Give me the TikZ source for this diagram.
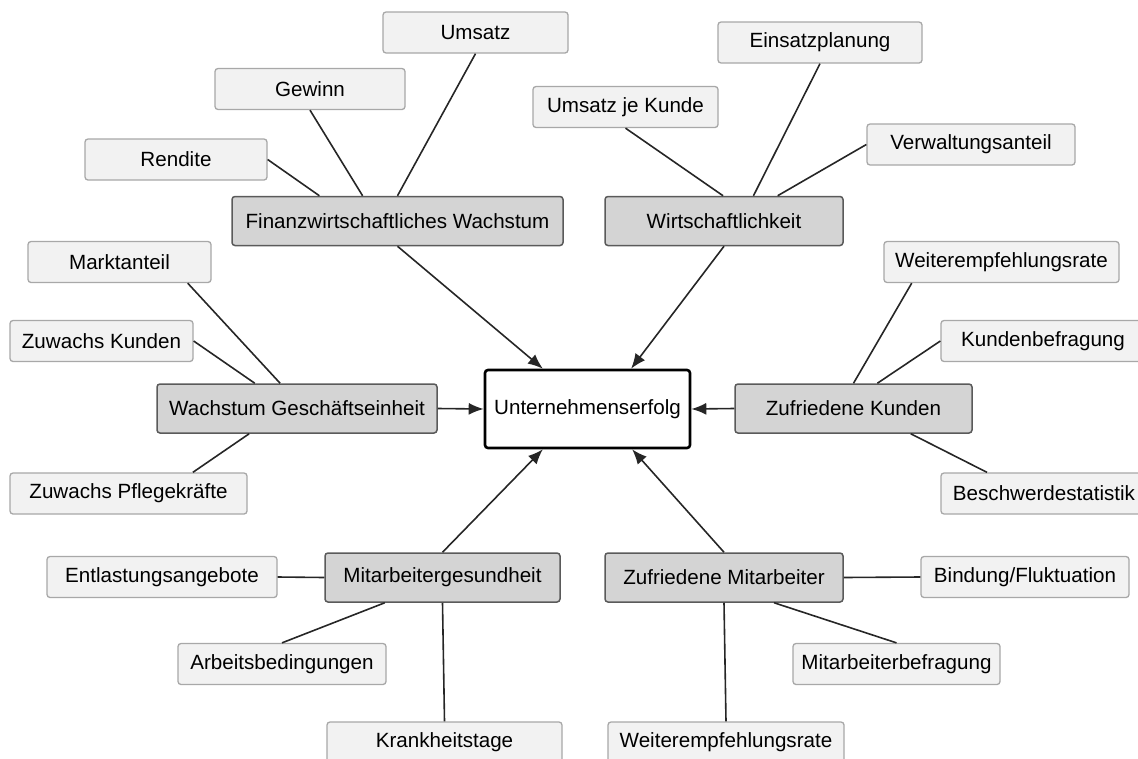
\documentclass[tikz,border=0pt]{standalone}
\usepackage{fontspec}
\setmainfont{Liberation Sans}
\usepackage{tikz}
\usetikzlibrary{calc,arrows.meta}
\definecolor{leaffill}{HTML}{F2F2F2}
\definecolor{leafedge}{HTML}{A8A8A8}
\definecolor{groupfill}{HTML}{D4D4D4}
\definecolor{groupedge}{HTML}{5A5A5A}
\definecolor{ink}{HTML}{262626}
\tikzset{
  box/.style={rounded corners=3pt, inner sep=0pt, font=\fontsize{20.6}{24}\selectfont, text=black},
  leaf/.style={box, draw=leafedge, fill=leaffill, line width=1.3pt, minimum height=41pt},
  group/.style={box, draw=groupedge, fill=groupfill, line width=1.5pt, minimum height=49pt},
  goal/.style={box, draw=black, fill=white, line width=2.6pt, minimum height=78pt, minimum width=205pt},
  link/.style={draw=ink, line width=1.6pt},
  feed/.style={link, -{Latex[length=15pt,width=12pt]}},
}

\begin{document}
\begin{tikzpicture}[x=1pt,y=-1pt]
  \useasboundingbox (0,0) rectangle (1138,758);
  \clip (0,0) rectangle (1138,758);

  % centre and groups
  \node[goal] (erfolg) at (587.5,409) {Unternehmenserfolg};
  \node[group, minimum width=331pt] (fin) at (397.5,221) {Finanzwirtschaftliches Wachstum};
  \node[group, minimum width=238pt] (wirt) at (724,221) {Wirtschaftlichkeit};
  \node[group, minimum width=280pt] (wachstum) at (297,408.5) {Wachstum Geschäftseinheit};
  \node[group, minimum width=237pt] (zkund) at (853.5,408.5) {Zufriedene Kunden};
  \node[group, minimum width=235pt] (mges) at (442.5,577.5) {Mitarbeitergesundheit};
  \node[group, minimum width=238pt] (zmit) at (724,577.5) {Zufriedene Mitarbeiter};

  % indicators
  \node[leaf, minimum width=185pt] (umsatz) at (475.5,32.5) {Umsatz};
  \node[leaf, minimum width=190pt] (gewinn) at (310,89) {Gewinn};
  \node[leaf, minimum width=182pt] (rendite) at (176,159.5) {Rendite};
  \node[leaf, minimum width=185pt] (ujk) at (625.5,107) {Umsatz je Kunde};
  \node[leaf, minimum width=204pt] (einsatz) at (820,42.5) {Einsatzplanung};
  \node[leaf, minimum width=208pt] (verw) at (971,144.5) {Verwaltungsanteil};
  \node[leaf, minimum width=183pt] (markt) at (119.5,262) {Marktanteil};
  \node[leaf, minimum width=183pt] (zkunden) at (101.5,341) {Zuwachs Kunden};
  \node[leaf, minimum width=237pt] (zpflege) at (128.5,493.5) {Zuwachs Pflegekräfte};
  \node[leaf, minimum width=235pt] (weiterk) at (1001.5,262) {Weiterempfehlungsrate};
  \node[leaf, minimum width=204pt] (kbefr) at (1043,341) {Kundenbefragung};
  \node[leaf, minimum width=206pt] (beschw) at (1044,493.5) {Beschwerdestatistik};
  \node[leaf, minimum width=230pt] (entl) at (162,577) {Entlastungsangebote};
  \node[leaf, minimum width=208pt] (arbeit) at (282,664) {Arbeitsbedingungen};
  \node[leaf, minimum width=235pt] (krank) at (444.5,742.5) {Krankheitstage};
  \node[leaf, minimum width=208pt] (bindung) at (1025,577) {Bindung/Fluktuation};
  \node[leaf, minimum width=207pt] (mbefr) at (896.5,664) {Mitarbeiterbefragung};
  \node[leaf, minimum width=236pt] (weiterm) at (726,742.5) {Weiterempfehlungsrate};

  % indicator links
  \draw[link] (umsatz.south) -- ($(fin.north west)!0.50!(fin.north east)$);
  \draw[link] (gewinn.south) -- ($(fin.north west)!0.395!(fin.north east)$);
  \draw[link] (rendite.east) -- ($(fin.north west)!0.265!(fin.north east)$);
  \draw[link] (ujk.south) -- ($(wirt.north west)!0.496!(wirt.north east)$);
  \draw[link] (einsatz.south) -- ($(wirt.north west)!0.623!(wirt.north east)$);
  \draw[link] (verw.west) -- ($(wirt.north west)!0.724!(wirt.north east)$);
  \draw[link] ($(markt.south west)!0.87!(markt.south east)$) -- ($(wachstum.north west)!0.44!(wachstum.north east)$);
  \draw[link] (zkunden.east) -- ($(wachstum.north west)!0.35!(wachstum.north east)$);
  \draw[link] ($(zpflege.north west)!0.77!(zpflege.north east)$) -- ($(wachstum.south west)!0.33!(wachstum.south east)$);
  \draw[link] ($(weiterk.south west)!0.12!(weiterk.south east)$) -- ($(zkund.north west)!0.5!(zkund.north east)$);
  \draw[link] (kbefr.west) -- ($(zkund.north west)!0.6!(zkund.north east)$);
  \draw[link] ($(zkund.south west)!0.74!(zkund.south east)$) -- ($(beschw.north west)!0.225!(beschw.north east)$);
  \draw[link] (entl.east) -- (mges.west);
  \draw[link] (arbeit.north) -- ($(mges.south west)!0.256!(mges.south east)$);
  \draw[link] (mges.south) -- (krank.north);
  \draw[link] (zmit.east) -- (bindung.west);
  \draw[link] ($(zmit.south west)!0.709!(zmit.south east)$) -- (mbefr.north);
  \draw[link] (zmit.south) -- (weiterm.north);

  % arrows into the centre
  \draw[feed] (fin.south) -- ($(erfolg.north west)!0.285!(erfolg.north east)$);
  \draw[feed] (wirt.south) -- ($(erfolg.north west)!0.71!(erfolg.north east)$);
  \draw[feed] (wachstum.east) -- (erfolg.west);
  \draw[feed] (zkund.west) -- (erfolg.east);
  \draw[feed] (mges.north) -- ($(erfolg.south west)!0.285!(erfolg.south east)$);
  \draw[feed] (zmit.north) -- ($(erfolg.south west)!0.715!(erfolg.south east)$);
\end{tikzpicture}
\end{document}
